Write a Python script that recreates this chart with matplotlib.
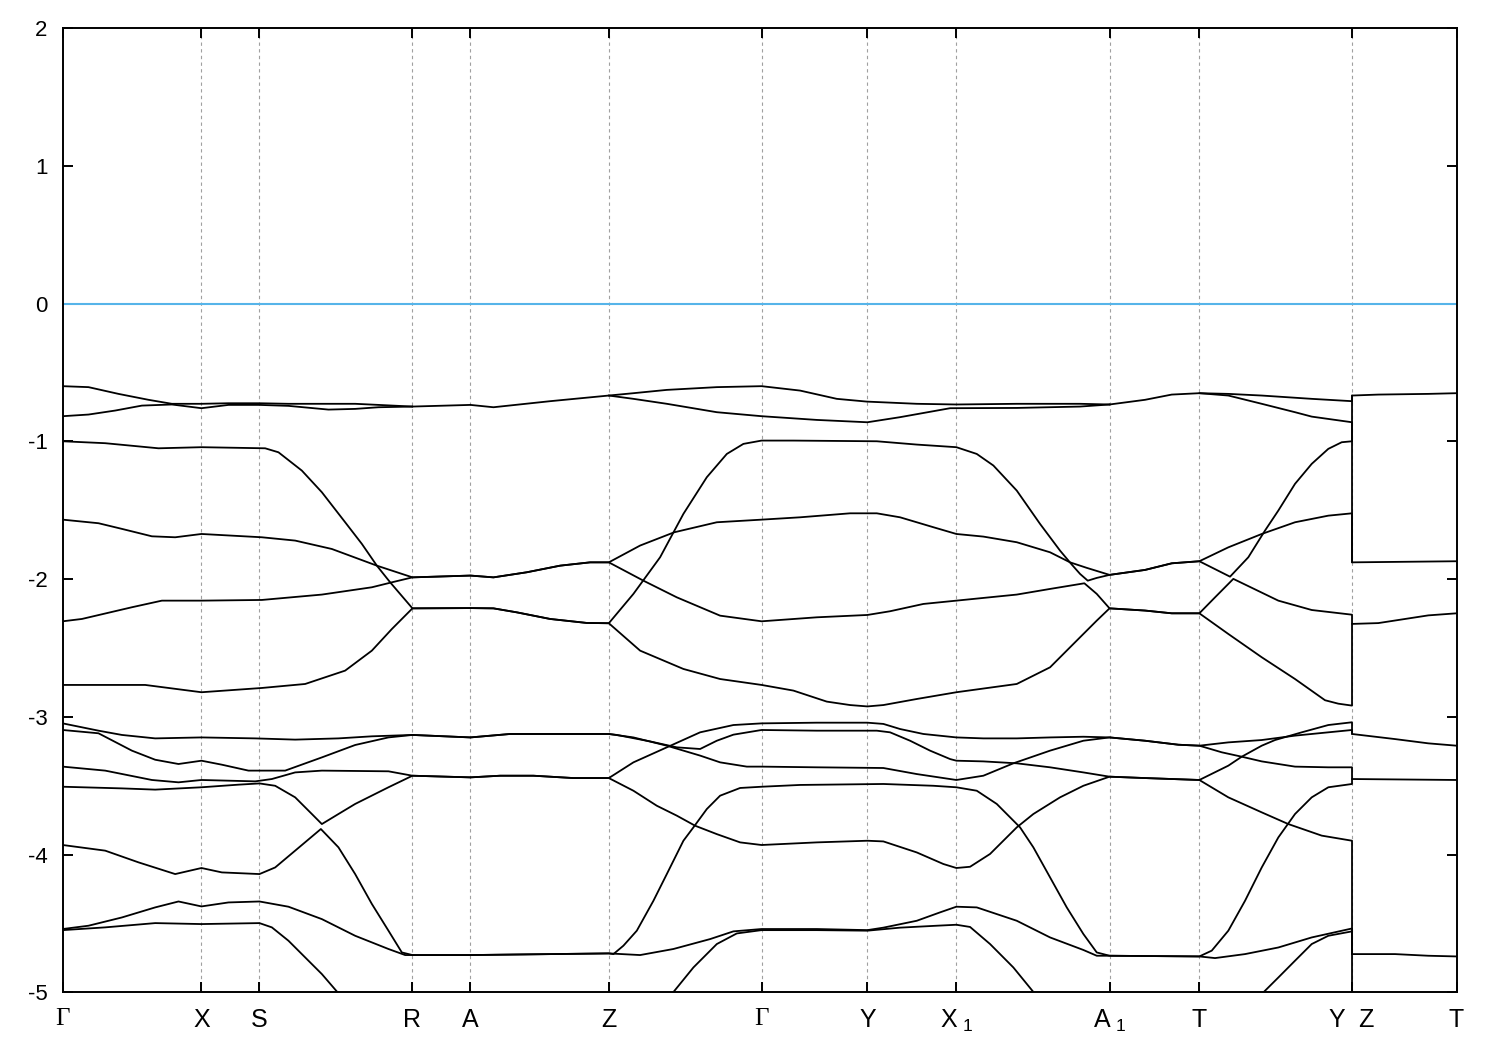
import matplotlib
matplotlib.use("Agg")
import matplotlib.pyplot as plt
import numpy as np

# ---------------- data ----------------
# k-path positions of the high-symmetry points (arbitrary path-length units)
tick_k = [0.0, 138.8, 196.8, 349.8, 407.8, 546.2, 699.0, 804.8, 893.8, 1047.0, 1136.8, 1289.5, 1394.0]
tick_labels = ["Γ", "X", "S", "R", "A", "Z", "Γ", "Y", "X$_{\\ \\mathregular{1}}$", "A$_{\\ \\mathregular{1}}$",
               "T", "Y  Z", "T"]
y_ticks = [-5, -4, -3, -2, -1, 0, 1, 2]
fermi_level = 0.0

# band energies (eV) as (k, E) knots
top_1 = [(0, -0.600), (25.8, -0.607), (55.8, -0.656), (85.8, -0.699), (109.2, -0.728), (138.8, -0.728),
         (165.8, -0.724), (196.8, -0.724), (225.8, -0.728), (292.5, -0.728), (315.8, -0.736), (349.8, -0.748)]
top_2 = [(0, -0.818), (25.8, -0.806), (52.5, -0.777), (79.2, -0.741), (109.2, -0.733), (138.8, -0.760),
         (165.8, -0.736), (196.8, -0.736), (225.8, -0.743), (265.8, -0.770), (292.5, -0.765), (315.8, -0.753),
         (349.8, -0.748)]
top_3 = [(349.8, -0.748), (407.8, -0.736), (430.8, -0.753), (487.5, -0.709), (546.2, -0.668)]
top_4 = [(546.2, -0.668), (570.8, -0.651), (604.2, -0.627), (654.2, -0.607), (699, -0.600), (737.5, -0.632),
         (774.2, -0.692), (804.2, -0.712), (854.2, -0.728), (893.8, -0.733), (954.2, -0.728), (1017.5, -0.728),
         (1047, -0.733)]
top_5 = [(546.2, -0.668), (570.8, -0.692), (604.2, -0.728), (654.2, -0.789), (699, -0.818), (754.2, -0.845),
         (804.8, -0.862), (837.5, -0.825), (887.5, -0.760), (954.2, -0.758), (1017.5, -0.748), (1047, -0.733)]
top_6 = [(1047, -0.733), (1082.5, -0.699), (1109.2, -0.661), (1136.8, -0.651), (1165.8, -0.656), (1199.2, -0.668),
         (1249.2, -0.692), (1289.5, -0.709), (1289.5, -0.668), (1315.8, -0.661), (1365.8, -0.656), (1394, -0.651)]
top_7 = [(1136.8, -0.651), (1165.8, -0.668), (1199.2, -0.728), (1232.5, -0.789), (1249.2, -0.821),
         (1289.5, -0.862), (1289.5, -1.879), (1394, -1.871)]

mid_1 = [(0, -1.000), (42.5, -1.014), (95.8, -1.051), (138.8, -1.043), (202.5, -1.051), (215.8, -1.080),
         (239.2, -1.213), (259.2, -1.370), (282.5, -1.588), (299.2, -1.745), (314.2, -1.903), (327.5, -2.024),
         (349.8, -2.213), (407.8, -2.211), (430.8, -2.213), (454.2, -2.242), (487.5, -2.290), (524.2, -2.319),
         (546.2, -2.321), (570.8, -2.108), (597.5, -1.842), (620.8, -1.527), (644.2, -1.261), (664.2, -1.092),
         (680.8, -1.019), (699, -0.995), (730.8, -0.995), (814.2, -1.000), (854.2, -1.024), (893.8, -1.043),
         (914.2, -1.092), (930.8, -1.176), (954.2, -1.358), (977.5, -1.600), (997.5, -1.794), (1009.2, -1.895),
         (1017.5, -1.963), (1025.2, -2.012), (1034.2, -1.992), (1047, -1.970), (1082.5, -1.934), (1109.2, -1.886),
         (1136.8, -1.871), (1167.5, -1.983), (1185.8, -1.842), (1202.5, -1.648), (1215.8, -1.503),
         (1232.5, -1.309), (1249.2, -1.164), (1265.8, -1.055), (1279.2, -1.007), (1289.5, -1.000),
         (1289.5, -0.668)]
mid_2 = [(0, -1.569), (35.8, -1.595), (59.2, -1.636), (89.2, -1.690), (112.5, -1.697), (138.8, -1.673),
         (199.2, -1.697), (232.5, -1.721), (269.2, -1.782), (314.2, -1.903), (349.8, -1.988), (407.8, -1.975),
         (430.8, -1.988), (464.2, -1.951), (497.5, -1.903), (527.5, -1.879), (546.2, -1.879), (577.5, -1.757),
         (611.5, -1.661), (654.2, -1.588), (699, -1.569), (737.5, -1.552), (787.5, -1.523), (814.2, -1.523),
         (837.5, -1.552), (870.8, -1.624), (893.8, -1.673), (920.8, -1.692), (954.2, -1.733), (987.5, -1.806),
         (1007.5, -1.879), (1024.2, -1.919), (1047, -1.970), (1082.5, -1.934), (1109.2, -1.886), (1136.8, -1.871),
         (1165.8, -1.770), (1199.2, -1.673), (1232.5, -1.588), (1265.8, -1.540), (1289.5, -1.523),
         (1289.5, -1.879)]
mid_3 = [(0, -2.307), (19.2, -2.290), (69.2, -2.205), (99.2, -2.157), (138.8, -2.157), (199.2, -2.152),
         (259.2, -2.113), (309.2, -2.060), (329.2, -2.024), (349.8, -1.988), (407.8, -1.975), (430.8, -1.988),
         (464.2, -1.951), (497.5, -1.903), (527.5, -1.879), (546.2, -1.879), (580.8, -2.012), (614.2, -2.133),
         (657.5, -2.266), (699, -2.307), (754.2, -2.278), (804.8, -2.261), (827.5, -2.234), (860.8, -2.181),
         (893.8, -2.157), (954.2, -2.113), (987.5, -2.072), (1021.8, -2.031), (1034.2, -2.108), (1047, -2.213),
         (1082.5, -2.229), (1109.2, -2.249), (1136.8, -2.249), (1152.5, -2.133), (1170.8, -1.999),
         (1215.8, -2.157), (1249.2, -2.225), (1289.5, -2.259), (1289.5, -2.326), (1315.8, -2.320),
         (1365.8, -2.264), (1394, -2.249)]
mid_4 = [(0, -2.769), (82.5, -2.769), (138.8, -2.822), (199.2, -2.791), (242.5, -2.762), (282.5, -2.665),
         (309.2, -2.520), (329.2, -2.363), (349.8, -2.213), (407.8, -2.211), (430.8, -2.213), (454.2, -2.242),
         (487.5, -2.290), (524.2, -2.319), (546.2, -2.321), (577.5, -2.520), (620.8, -2.653), (657.5, -2.726),
         (699, -2.769), (730.8, -2.810), (764.2, -2.890), (787.5, -2.915), (804.8, -2.925), (820.8, -2.915),
         (854.2, -2.871), (893.8, -2.822), (954.2, -2.762), (987.5, -2.641), (1014.2, -2.447), (1034.2, -2.302),
         (1047, -2.213), (1082.5, -2.229), (1109.2, -2.249), (1136.8, -2.249), (1165.8, -2.399), (1199.2, -2.568),
         (1232.5, -2.726), (1262.5, -2.880), (1275.8, -2.905), (1289.5, -2.919), (1289.5, -2.326)]

low_1 = [(0, -3.048), (35.8, -3.101), (59.2, -3.132), (92.5, -3.157), (138.8, -3.150), (192.5, -3.157),
         (232.5, -3.166), (275.8, -3.157), (309.2, -3.142), (349.8, -3.132), (407.8, -3.150), (447.5, -3.125),
         (546.2, -3.125), (554.2, -3.132), (587.5, -3.179), (614.2, -3.222), (637.5, -3.234), (654.2, -3.174),
         (670.8, -3.130), (699, -3.096), (754.2, -3.101), (814.2, -3.101), (827.5, -3.113), (847.5, -3.174),
         (867.5, -3.246), (887.5, -3.307), (893.8, -3.319), (920.8, -3.324), (954.2, -3.338), (987.5, -3.367),
         (1020.8, -3.404), (1047, -3.435), (1082.5, -3.445), (1136.8, -3.459), (1165.8, -3.355), (1179.2, -3.290),
         (1199.2, -3.210), (1212.5, -3.169), (1239.2, -3.113), (1265.8, -3.060), (1289.5, -3.040),
         (1289.5, -3.125)]
low_2 = [(0, -3.096), (35.8, -3.120), (69.2, -3.246), (92.5, -3.312), (115.8, -3.343), (138.8, -3.319),
         (159.2, -3.348), (185.8, -3.391), (222.5, -3.391), (259.2, -3.295), (292.5, -3.205), (325.8, -3.150),
         (349.8, -3.132), (407.8, -3.150), (447.5, -3.125), (546.2, -3.125), (570.8, -3.150), (604.2, -3.210),
         (637.5, -3.282), (657.5, -3.331), (684.2, -3.362), (699, -3.362), (754.2, -3.367), (820.8, -3.372),
         (854.2, -3.416), (893.8, -3.459), (920.8, -3.428), (950.8, -3.338), (987.5, -3.246), (1020.8, -3.174),
         (1047, -3.150), (1082.5, -3.174), (1115.8, -3.203), (1136.8, -3.210), (1165.8, -3.186), (1199.2, -3.169),
         (1232.5, -3.137), (1265.8, -3.113), (1289.5, -3.096), (1289.5, -3.125), (1332.5, -3.162),
         (1365.8, -3.193), (1394, -3.210)]
low_3 = [(0, -3.362), (42.5, -3.391), (89.2, -3.459), (115.8, -3.476), (138.8, -3.459), (192.5, -3.469),
         (209.2, -3.452), (232.5, -3.404), (259.2, -3.391), (325.8, -3.396), (349.8, -3.428), (407.8, -3.440),
         (437.5, -3.428), (470.8, -3.428), (510.8, -3.445), (546.2, -3.445), (570.8, -3.331), (604.2, -3.222),
         (637.5, -3.113), (670.8, -3.060), (699, -3.048), (754.2, -3.043), (804.8, -3.043), (820.8, -3.052),
         (837.5, -3.089), (860.8, -3.125), (893.8, -3.150), (920.8, -3.157), (954.2, -3.157), (987.5, -3.150),
         (1020.8, -3.145), (1047, -3.150), (1082.5, -3.174), (1115.8, -3.203), (1136.8, -3.210), (1159.2, -3.258),
         (1179.2, -3.290), (1199.2, -3.324), (1232.5, -3.362), (1265.8, -3.367), (1289.5, -3.367),
         (1289.5, -3.452), (1394, -3.459)]
low_4 = [(0, -3.508), (59.2, -3.520), (92.5, -3.529), (138.8, -3.512), (175.8, -3.493), (196.8, -3.484),
         (212.5, -3.501), (232.5, -3.585), (249.2, -3.706), (259.2, -3.779), (275.8, -3.706), (292.5, -3.633),
         (325.8, -3.512), (349.8, -3.428), (407.8, -3.440), (437.5, -3.428), (470.8, -3.428), (510.8, -3.445),
         (546.2, -3.445), (570.8, -3.537), (594.2, -3.646), (614.2, -3.718), (632.5, -3.791), (654.2, -3.852),
         (677.5, -3.912), (699, -3.931), (754.2, -3.912), (804.8, -3.900), (820.8, -3.905), (854.2, -3.985),
         (880.8, -4.069), (893.8, -4.098), (907.5, -4.089), (927.5, -3.996), (954.2, -3.803), (970.8, -3.706),
         (997.5, -3.585), (1020.8, -3.501), (1047, -3.435), (1082.5, -3.445), (1136.8, -3.459), (1165.8, -3.585),
         (1199.2, -3.694), (1225.8, -3.779), (1259.2, -3.863), (1289.5, -3.900), (1289.5, -4.723),
         (1332.5, -4.723), (1365.8, -4.735), (1394, -4.740)]
low_5 = [(0, -3.931), (42.5, -3.972), (75.8, -4.057), (112.5, -4.142), (138.8, -4.098), (159.2, -4.130),
         (196.8, -4.142), (212.5, -4.094), (232.5, -3.972), (258.2, -3.815), (275.8, -3.948), (292.5, -4.142),
         (309.2, -4.359), (325.8, -4.553), (339.2, -4.711), (349.8, -4.730), (407.8, -4.730), (546.2, -4.718),
         (550.8, -4.723), (560.8, -4.662), (574.2, -4.553), (590.8, -4.336), (604.2, -4.142), (620.8, -3.900),
         (630.8, -3.803), (644.2, -3.670), (657.5, -3.573), (677.5, -3.517), (699, -3.508), (737.5, -3.495),
         (820.8, -3.488), (870.8, -3.501), (893.8, -3.512), (914.2, -3.537), (934.2, -3.633), (950.8, -3.754),
         (957.5, -3.803), (970.8, -3.948), (987.5, -4.166), (1004.2, -4.384), (1020.8, -4.577), (1034.2, -4.711),
         (1047, -4.735), (1136.8, -4.740), (1149.2, -4.698), (1165.8, -4.553), (1182.5, -4.336), (1199.2, -4.094),
         (1215.8, -3.876), (1232.5, -3.706), (1249.2, -3.585), (1265.8, -3.512), (1289.5, -3.488),
         (1289.5, -3.452)]
low_6 = [(0, -4.541), (25.8, -4.517), (59.2, -4.457), (92.5, -4.384), (115.8, -4.341), (138.8, -4.377),
         (165.8, -4.348), (196.8, -4.341), (225.8, -4.379), (259.2, -4.469), (292.5, -4.590), (325.8, -4.686),
         (342.5, -4.730), (349.8, -4.730), (407.8, -4.730), (546.2, -4.718), (577.5, -4.730), (610.8, -4.686),
         (647.5, -4.614), (670.8, -4.558), (699, -4.541), (754.2, -4.541), (804.8, -4.549), (820.8, -4.531),
         (854.2, -4.481), (877.5, -4.420), (893.8, -4.379), (914.2, -4.384), (954.2, -4.481), (987.5, -4.602),
         (1020.8, -4.693), (1034.2, -4.735), (1047, -4.735), (1136.8, -4.740), (1152.5, -4.752), (1182.5, -4.723),
         (1215.8, -4.675), (1249.2, -4.602), (1289.5, -4.537), (1289.5, -4.723)]
low_7 = [(0, -4.549), (42.5, -4.529), (92.5, -4.498), (138.8, -4.505), (196.8, -4.498), (209.2, -4.529),
         (225.8, -4.626), (245.8, -4.771), (259.2, -4.868), (275.8, -5.008), (300, -5.20)]
low_8 = [(590, -5.18), (609.2, -5.013), (630.8, -4.820), (654.2, -4.650), (674.2, -4.573), (699, -4.549),
         (754.2, -4.549), (804.8, -4.553), (837.5, -4.531), (874.2, -4.517), (893.8, -4.510), (907.5, -4.526),
         (927.5, -4.650), (950.8, -4.820), (972.5, -5.013), (990, -5.17)]
low_9 = [(1185, -5.11), (1199.2, -5.013), (1215.8, -4.893), (1232.5, -4.771), (1249.2, -4.650),
         (1265.8, -4.590), (1289.5, -4.558), (1289.5, -5.5)]

bands = [top_1, top_2, top_3, top_4, top_5, top_6, top_7,
         mid_1, mid_2, mid_3, mid_4,
         low_1, low_2, low_3, low_4, low_5, low_6, low_7, low_8, low_9]

# ---------------- plot ----------------
plt.rcParams['font.family'] = ['Liberation Sans', 'DejaVu Sans']
plt.rcParams['mathtext.fontset'] = 'custom'
plt.rcParams['mathtext.rm'] = 'Liberation Sans'

fig = plt.figure(figsize=(15, 10.5), dpi=100)
ax = fig.add_axes([0.0418, 0.055, 0.971 - 0.0418, 0.9733 - 0.055])

for k in tick_k[1:-1]:
    ax.axvline(k, color='#a0a0a0', linestyle=(0, (3, 3)), linewidth=0.8, zorder=1)

ax.axhline(fermi_level, color='#56b4e9', linewidth=1.5, zorder=2)

for band in bands:
    arr = np.array(band)
    ax.plot(arr[:, 0], arr[:, 1], color='black', linewidth=1.3, zorder=3,
            solid_joinstyle='round', solid_capstyle='round')

ax.set_xlim(tick_k[0], tick_k[-1])
ax.set_ylim(-5, 2)
ax.set_yticks(y_ticks)
ax.set_yticklabels([str(v) for v in y_ticks])
ax.set_xticks(tick_k)
ax.set_xticklabels(tick_labels)

for lbl in ax.get_xticklabels():
    if lbl.get_text() == "Γ":
        lbl.set_fontfamily(['Liberation Serif', 'DejaVu Serif'])
        lbl.set_fontsize(19)

ax.tick_params(axis='both', direction='in', length=7.5, width=1.4, top=True, right=True, colors='black')
ax.tick_params(axis='x', labelsize=18, pad=11)
ax.tick_params(axis='y', labelsize=16, pad=11)
for s in ax.spines.values():
    s.set_linewidth(1.4)

fig.savefig("out.png", dpi=100)
